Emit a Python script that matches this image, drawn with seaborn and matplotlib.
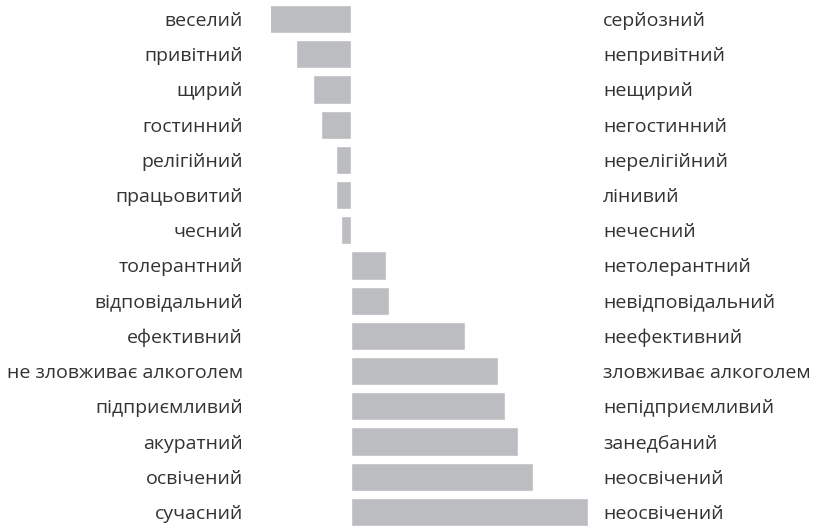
import matplotlib
matplotlib.use("Agg")
import matplotlib.pyplot as plt
import seaborn as sns
import pandas as pd

# semantic differential: positive end on the left, negative end on the right
left_labels = ["веселий", "привітний", "щирий", "гостинний", "релігійний",
               "працьовитий", "чесний", "толерантний", "відповідальний",
               "ефективний", "не зловживає алкоголем", "підприємливий",
               "акуратний", "освічений", "сучасний"]
right_labels = ["серйозний", "непривітний", "нещирий", "негостинний",
                "нерелігійний", "лінивий", "нечесний", "нетолерантний",
                "невідповідальний", "неефективний", "зловживає алкоголем",
                "непідприємливий", "занедбаний", "неосвічений", "неосвічений"]
scores = [-0.83, -0.56, -0.39, -0.31, -0.16, -0.16, -0.11, 0.35, 0.38,
          1.14, 1.47, 1.54, 1.68, 1.83, 2.38]

df = pd.DataFrame({"label": left_labels, "score": scores})

sns.set_style("white")
plt.rcParams['font.family'] = ['Open Sans', 'DejaVu Sans']

fig = plt.figure(figsize=(8.19, 5.26), dpi=100)
ax = fig.add_axes([271 / 819, 0, (588 - 271) / 819, 1 - 5 / 526])

sns.barplot(data=df, x="score", y="label", orient="h", color="#bcbdc1",
            saturation=1, width=0.8, ax=ax)

ax.set_xlim(-0.81, 2.38)
ax.set_ylim(14.4, -0.4)
ax.set_xlabel("")
ax.set_ylabel("")
ax.set_xticks([])
sns.despine(ax=ax, left=True, bottom=True)
ax.tick_params(axis="y", length=0, pad=20, labelsize=14, labelcolor="#333333")

ax2 = ax.twinx()
ax2.set_ylim(ax.get_ylim())
ax2.set_yticks(range(len(right_labels)))
ax2.set_yticklabels(right_labels)
ax2.tick_params(axis="y", length=0, pad=11, labelsize=14, labelcolor="#333333")
sns.despine(ax=ax2, left=True, bottom=True, right=True)

fig.savefig("out.png", dpi=100)
